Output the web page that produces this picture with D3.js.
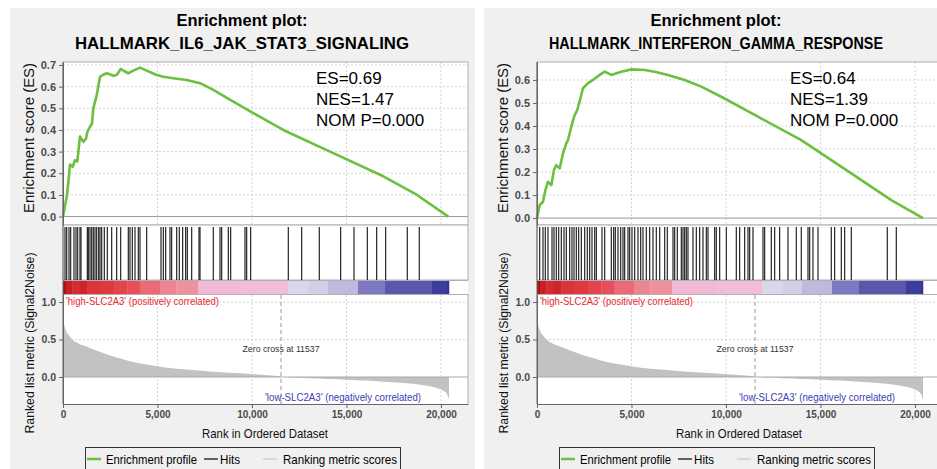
<!DOCTYPE html>
<html>
<head>
<meta charset="utf-8">
<script src="https://cdn.jsdelivr.net/npm/d3@7"></script>
<style>
body { margin: 0; background: #fff; }
svg { display: block; font-family: "Liberation Sans", Arial, sans-serif; }
.tick text { font-family: "Liberation Sans", Arial, sans-serif; fill: #4a4a4a; font-weight: bold; }
</style>
</head>
<body>
<svg id="chart" width="937" height="469"></svg>
<script>
// values
var titles = ["HALLMARK_IL6_JAK_STAT3_SIGNALING", "HALLMARK_INTERFERON_GAMMA_RESPONSE"];
var statsLeft = ["ES=0.69", "NES=1.47", "NOM P=0.000"];
var statsRight = ["ES=0.64", "NES=1.39", "NOM P=0.000"];
var esTicksLeft = [0, 0.1, 0.2, 0.3, 0.4, 0.5, 0.6, 0.7];
var esTicksRight = [0, 0.1, 0.2, 0.3, 0.4, 0.5, 0.6];
var rankTicks = [0, 5000, 10000, 15000, 20000];
var metricTicks = [0, 0.5, 1.0];
var zeroCross = 11537;
var legendItems = ["Enrichment profile", "Hits", "Ranking metric scores"];

var esLeft = [[0,0],[106,0.05],[196,0.09],[280,0.155],[370,0.24],[513,0.23],[635,0.26],[757,0.255],
  [899,0.37],[1074,0.345],[1217,0.36],[1286,0.39],[1429,0.415],[1534,0.43],[1603,0.5],[1783,0.56],
  [1958,0.646],[2101,0.654],[2312,0.662],[2577,0.654],[2661,0.65],[2841,0.654],[3053,0.682],[3280,0.67],
  [3455,0.662],[3720,0.674],[4074,0.688],[4429,0.674],[4958,0.654],[5307,0.646],[5836,0.639],[6545,0.631],
  [7249,0.616],[7952,0.585],[9011,0.531],[10069,0.478],[11656,0.40],[14302,0.293],[16947,0.186],
  [18714,0.101],[20386,0]];

var esRight = [[0,0],[143,0.057],[317,0.071],[439,0.12],[582,0.158],[757,0.143],[899,0.209],[1021,0.23],
  [1201,0.216],[1376,0.281],[1550,0.325],[1640,0.339],[1815,0.397],[1958,0.44],[2132,0.47],[2275,0.513],
  [2434,0.564],[2698,0.586],[2963,0.6],[3317,0.622],[3582,0.636],[3931,0.622],[4460,0.636],[4989,0.646],
  [5698,0.643],[6228,0.636],[6931,0.622],[7815,0.6],[8693,0.571],[9751,0.527],[11519,0.448],[13984,0.339],
  [16630,0.194],[18746,0.078],[20423,0]];

var hitsLeft = [106,196,317,407,582,688,778,899,952,1286,1339,1429,1519,1603,1693,1783,1889,1958,2048,
  2185,2344,2577,2841,3053,3455,3545,3667,3810,3984,4074,4429,5185,5307,5434,5661,5751,6016,6153,6333,
  6492,6577,6810,7196,7249,7952,8307,8397,8746,8873,9630,9720,9931,11921,12630,13561,14693,15397,16101,
  16598,17074,18217,18852];

var hitsRight = [143,317,439,582,794,899,1021,1148,1286,1429,1550,1730,1852,1958,2079,2206,2344,2524,
  2661,2788,2910,3053,3138,3439,3582,3931,4058,4143,4286,4429,4550,4640,4815,4905,5026,5169,5344,5487,
  5608,5783,5963,6138,6312,6492,6757,6894,7196,7286,7423,7635,7725,7815,7899,7989,8254,8429,8608,8783,
  8958,9048,9402,9487,9667,10016,10545,10725,10989,11164,11254,11429,11958,12048,12397,12577,12841,13280,
  13720,13984,14339,14429,14603,14868,15571,15751,16101,16280,16630,18534,19011];

var metricPos = [[0,0.8],[60,0.7],[150,0.62],[300,0.56],[500,0.5],[800,0.45],[1200,0.41],[1700,0.36],
  [2330,0.3],[3000,0.25],[3700,0.2],[4500,0.165],[5500,0.125],[6560,0.1],[7800,0.075],[9365,0.05],
  [10500,0.03],[11537,0.01]];
var metricNeg = [[11900,-0.005],[13000,-0.015],[14000,-0.025],[15000,-0.035],[16000,-0.048],[17000,-0.062],
  [18000,-0.08],[19000,-0.105],[19700,-0.14],[20100,-0.18],[20300,-0.22],[20423,-0.3]];

var barBreaks = [0,160,500,900,1300,2000,2700,3400,4074,5132,6000,7143,9500,11905,13000,14021,15608,
  17037,19524,20317,20423];
var barColors = ["#a8101c","#c81e28","#d42a30","#cf2430","#dc343b","#e03a40","#e4454c","#e5505a","#ea6a78",
  "#ed8590","#ef919a","#f2b9d6","#f0bcd8","#dcd6ea","#d3cde6","#c0b9dd","#7d79c3","#5c56ad","#3b3d9f",
  "#4c2a8c"];

var svg = d3.select("#chart");
var green = "#6cbf3f";

function fit(sel, w) {
  sel.attr("textLength", w).attr("lengthAdjust", "spacingAndGlyphs");
}

function drawPanel(dx, title, stats, esPts, esDomain, esTicks, hits) {
  var g = svg.append("g").attr("transform", "translate(" + dx + ",0)");

  var x = d3.scaleLinear().domain([0, 21430]).range([63, 468]);
  var yEs = d3.scaleLinear().domain(esDomain).range([225, 62]);
  var yM = d3.scaleLinear().domain([-0.36, 1.107]).range([404, 294]);

  g.append("rect").attr("x", 10).attr("y", 8).attr("width", 465).attr("height", 470).attr("fill", "#f0f0f0");
  g.append("rect").attr("x", 63).attr("y", 62).attr("width", 405).attr("height", 342).attr("fill", "#fff");

  // title
  g.append("text").attr("x", 242).attr("y", 26).attr("text-anchor", "middle")
    .style("font-size", "16.5px").style("font-weight", "bold").text("Enrichment plot:");
  g.append("text").attr("x", 242).attr("y", 49).attr("text-anchor", "middle")
    .style("font-size", "16.5px").style("font-weight", "bold").text(title).call(fit, 334);

  // ES grid
  g.append("g").selectAll("line").data(esTicks.filter(function(d){ return d > 0; }))
    .enter().append("line")
    .attr("x1", 63).attr("x2", 468).attr("y1", function(d){ return yEs(d); }).attr("y2", function(d){ return yEs(d); })
    .attr("stroke", "#d4d4d4").attr("stroke-dasharray", "2,2");
  g.append("g").selectAll("line").data(rankTicks.slice(1))
    .enter().append("line")
    .attr("x1", function(d){ return x(d); }).attr("x2", function(d){ return x(d); }).attr("y1", 62).attr("y2", 225)
    .attr("stroke", "#d4d4d4").attr("stroke-dasharray", "2,2");
  g.append("line").attr("x1", 63).attr("x2", 468).attr("y1", yEs(0)).attr("y2", yEs(0)).attr("stroke", "#999");
  g.append("rect").attr("x", 63).attr("y", 62).attr("width", 405).attr("height", 163)
    .attr("fill", "none").attr("stroke", "#b0b0b0");

  g.append("path").datum(esPts)
    .attr("d", d3.line().x(function(d){ return x(d[0]); }).y(function(d){ return yEs(d[1]); }))
    .attr("fill", "none").attr("stroke", green).attr("stroke-width", 2.6).attr("stroke-linejoin", "round");

  // stats
  g.selectAll(".stat").data(stats).enter().append("text").attr("class", "stat")
    .attr("x", 316).attr("y", function(d, i){ return 84 + i * 21; })
    .style("font-size", "17px").text(function(d){ return d; });

  // hits
  g.append("rect").attr("x", 63).attr("y", 225).attr("width", 405).attr("height", 55)
    .attr("fill", "#fff").attr("stroke", "#b0b0b0");
  g.append("g").selectAll("line").data(hits).enter().append("line")
    .attr("x1", function(d){ return x(d); }).attr("x2", function(d){ return x(d); })
    .attr("y1", 227).attr("y2", 280).attr("stroke", "#111").attr("stroke-width", 1.1);

  // colour bar
  g.append("g").selectAll("rect").data(barColors).enter().append("rect")
    .attr("x", function(d, i){ return x(barBreaks[i]); })
    .attr("width", function(d, i){ return x(barBreaks[i + 1]) - x(barBreaks[i]) + 0.3; })
    .attr("y", 281).attr("height", 13).attr("fill", function(d){ return d; });
  g.append("line").attr("x1", 63).attr("x2", 468).attr("y1", 280.5).attr("y2", 280.5).attr("stroke", "#b0b0b0");
  g.append("line").attr("x1", 63).attr("x2", 468).attr("y1", 294.5).attr("y2", 294.5).attr("stroke", "#b0b0b0");

  // ranked list metric
  g.append("g").selectAll("line").data(metricTicks.slice(1)).enter().append("line")
    .attr("x1", 63).attr("x2", 468).attr("y1", function(d){ return yM(d); }).attr("y2", function(d){ return yM(d); })
    .attr("stroke", "#d4d4d4").attr("stroke-dasharray", "2,2");
  g.append("g").selectAll("line").data(rankTicks.slice(1)).enter().append("line")
    .attr("x1", function(d){ return x(d); }).attr("x2", function(d){ return x(d); }).attr("y1", 295).attr("y2", 404)
    .attr("stroke", "#d4d4d4").attr("stroke-dasharray", "2,2");

  var area = d3.area().curve(d3.curveMonotoneX)
    .x(function(d){ return x(d[0]); }).y0(yM(0)).y1(function(d){ return yM(d[1]); });
  g.append("path").datum(metricPos).attr("d", area).attr("fill", "#c2c2c2");
  g.append("path").datum(metricNeg).attr("d", area).attr("fill", "#c2c2c2");
  g.append("line").attr("x1", 63).attr("x2", 468).attr("y1", yM(0)).attr("y2", yM(0)).attr("stroke", "#aaa");
  g.append("line").attr("x1", 468).attr("x2", 468).attr("y1", 294).attr("y2", 404).attr("stroke", "#b0b0b0");

  g.append("line").attr("x1", x(zeroCross)).attr("x2", x(zeroCross)).attr("y1", 295).attr("y2", 404)
    .attr("stroke", "#999").attr("stroke-dasharray", "4,3");
  g.append("text").attr("x", x(zeroCross)).attr("y", 352).attr("text-anchor", "middle")
    .style("font-size", "9.5px").attr("fill", "#333").text("Zero cross at " + zeroCross).call(fit, 77);
  g.append("text").attr("x", 66).attr("y", 304.5).style("font-size", "10.5px").attr("fill", "#e8282e")
    .text("'high-SLC2A3' (positively correlated)").call(fit, 153);
  g.append("text").attr("x", 421).attr("y", 400.5).attr("text-anchor", "end").style("font-size", "10.5px")
    .attr("fill", "#3c3cb4").text("'low-SLC2A3' (negatively correlated)").call(fit, 156);

  // axes
  var esAxis = g.append("g").attr("transform", "translate(63,0)")
    .call(d3.axisLeft(yEs).tickValues(esTicks).tickSize(4).tickSizeOuter(0).tickPadding(3).tickFormat(d3.format(".1f")));
  var mAxis = g.append("g").attr("transform", "translate(63,0)")
    .call(d3.axisLeft(yM).tickValues(metricTicks).tickSize(4).tickSizeOuter(0).tickPadding(3).tickFormat(d3.format(".1f")));
  var xAxis = g.append("g").attr("transform", "translate(0,404)")
    .call(d3.axisBottom(x).tickValues(rankTicks).tickSize(4).tickSizeOuter(0).tickPadding(3).tickFormat(d3.format(",")));
  [esAxis, mAxis, xAxis].forEach(function(a) {
    a.selectAll("path, line").attr("stroke", "#666");
  });
  esAxis.selectAll("text").style("font-size", "11px");
  mAxis.selectAll("text").style("font-size", "10.5px");
  xAxis.selectAll("text").style("font-size", "10px");
  g.append("line").attr("x1", 63).attr("x2", 63).attr("y1", 62).attr("y2", 404).attr("stroke", "#666");

  // axis titles
  g.append("text").attr("transform", "translate(34,138) rotate(-90)").attr("text-anchor", "middle")
    .style("font-size", "14px").attr("fill", "#111").text("Enrichment score (ES)").call(fit, 150);
  g.append("text").attr("transform", "translate(34,343) rotate(-90)").attr("text-anchor", "middle")
    .style("font-size", "13px").attr("fill", "#111").text("Ranked list metric (Signal2Noise)").call(fit, 181);
  g.append("text").attr("x", 265).attr("y", 438).attr("text-anchor", "middle")
    .style("font-size", "13.5px").attr("fill", "#111").text("Rank in Ordered Dataset").call(fit, 126);

  // legend
  var lg = g.append("g");
  lg.append("rect").attr("x", 85.5).attr("y", 447.5).attr("width", 315).attr("height", 30)
    .attr("fill", "#f0f0f0").attr("stroke", "#333");
  var itemX = [106, 220, 283];
  var itemW = [91, 20, 114];
  var swatchX = [87, 204, 263];
  var swatchColor = [green, "#333", "#cfcfcf"];
  lg.selectAll("line.sw").data(legendItems).enter().append("line").attr("class", "sw")
    .attr("x1", function(d, i){ return swatchX[i]; }).attr("x2", function(d, i){ return swatchX[i] + 14; })
    .attr("y1", 459).attr("y2", 459)
    .attr("stroke", function(d, i){ return swatchColor[i]; }).attr("stroke-width", function(d, i){ return i == 0 ? 2.5 : 1.5; });
  lg.selectAll("text").data(legendItems).enter().append("text")
    .attr("x", function(d, i){ return itemX[i]; }).attr("y", 463.5)
    .style("font-size", "13px").text(function(d){ return d; })
    .each(function(d, i){ d3.select(this).call(fit, itemW[i]); });
}

drawPanel(0, titles[0], statsLeft, esLeft, [-0.039, 0.714], esTicksLeft, hitsLeft);
drawPanel(474, titles[1], statsRight, esRight, [-0.030, 0.678], esTicksRight, hitsRight);
</script>
</body>
</html>
